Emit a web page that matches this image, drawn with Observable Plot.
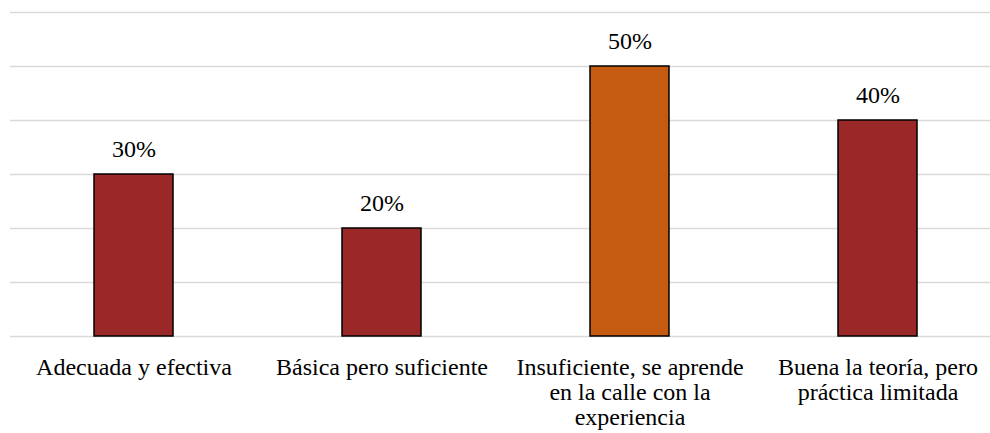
<!DOCTYPE html>
<html>
<head>
<meta charset="utf-8">
<script src="https://cdn.jsdelivr.net/npm/d3@7"></script>
<script src="https://cdn.jsdelivr.net/npm/@observablehq/plot@0.6"></script>
<style>
  html, body { margin: 0; padding: 0; background: #fff; }
  #chart svg { display: block; }
</style>
</head>
<body>
<div id="chart"></div>
<script>
const categories = [
  "Adecuada y efectiva",
  "Básica pero suficiente",
  "Insuficiente, se aprende en la calle con la experiencia",
  "Buena la teoría, pero práctica limitada"
];
const tickLabels = [
  "Adecuada y efectiva",
  "Básica pero suficiente",
  "Insuficiente, se aprende\nen la calle con la\nexperiencia",
  "Buena la teoría, pero\npráctica limitada"
];
const values = [0.30, 0.20, 0.50, 0.40];
const barColors = ["#9A2828", "#9A2828", "#C55A11", "#9A2828"];
const gridTicks = [0, 0.1, 0.2, 0.3, 0.4, 0.5, 0.6];

const data = categories.map((c, i) => ({cat: c, value: values[i], color: barColors[i]}));
const labelOf = new Map(categories.map((c, i) => [c, tickLabels[i]]));
const font = "Liberation Serif";

const chart = Plot.plot({
  width: 990,
  height: 433,
  marginTop: 12,
  marginBottom: 97,
  marginLeft: 10,
  marginRight: 0,
  style: {fontFamily: font, background: "#fff"},
  x: {domain: categories, paddingInner: 0.6815, paddingOuter: 0.3165, align: 0.535, label: null},
  y: {domain: [0, 0.6], axis: null},
  color: {type: "identity"},
  marks: [
    Plot.ruleY(gridTicks, {stroke: "#d9d9d9", strokeWidth: 1.5}),
    Plot.barY(data, {x: "cat", y: "value", fill: "color", stroke: "#000", strokeWidth: 1.5}),
    Plot.text(data, {
      x: "cat", y: "value",
      text: d => `${Math.round(d.value * 100)}%`,
      dy: -25, lineAnchor: "middle",
      fontSize: 24, fontFamily: font, fill: "#000"
    }),
    Plot.axisX({
      tickSize: 0, tickPadding: 20,
      tickFormat: d => labelOf.get(d),
      fontSize: 24, fontFamily: font, lineHeight: 1.06,
      fill: "#000", label: null
    })
  ]
});
document.getElementById("chart").append(chart);
</script>
</body>
</html>
